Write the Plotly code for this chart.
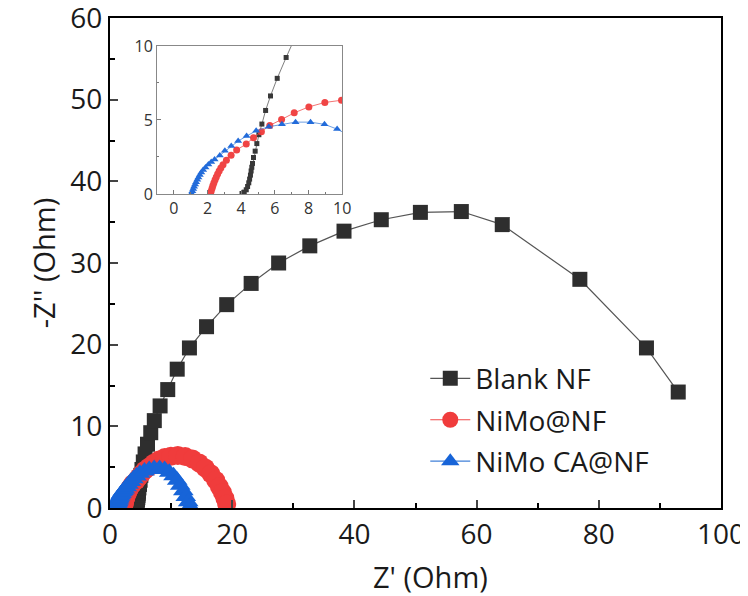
import plotly.graph_objects as go

# ---- data ----
blank_x = [4.05, 4.18, 4.3, 4.38, 4.45, 4.5, 4.55, 4.59, 4.63, 4.67, 4.73, 4.83, 4.93, 5.05, 5.23, 5.45,
           5.74, 6.14, 6.67, 7.25, 8.2, 9.45, 11.0, 13.0, 15.8, 19.1, 23.1, 27.6, 32.7, 38.3, 44.4,
           50.8, 57.5, 64.2, 76.9, 87.8, 93.0]
blank_y = [0.03, 0.12, 0.28, 0.5, 0.75, 1.0, 1.27, 1.55, 1.8, 2.06, 2.46, 2.89, 3.4, 4.0, 4.72, 5.64,
           6.62, 7.81, 9.22, 10.7, 12.5, 14.5, 17.0, 19.6, 22.2, 24.9, 27.5, 30.0, 32.1, 33.9, 35.3,
           36.2, 36.3, 34.7, 28.0, 19.6, 14.2]

nimo_x = [2.18, 2.22, 2.27, 2.32, 2.38, 2.45, 2.52, 2.6, 2.69, 2.79, 2.92, 3.12, 3.4, 3.73, 4.3, 4.73,
          5.2, 5.7, 6.4, 7.15, 8.02, 8.97, 9.96, 11.1, 12.3, 13.5, 14.6, 15.6, 16.5, 17.3, 17.9, 18.4,
          18.8, 19.1]
nimo_y = [0.03, 0.2, 0.38, 0.56, 0.75, 0.95, 1.15, 1.35, 1.55, 1.75, 1.97, 2.28, 2.62, 2.97, 3.37, 3.8,
          4.2, 4.63, 5.03, 5.48, 5.88, 6.18, 6.33, 6.42, 6.3, 6.0, 5.5, 4.9, 4.2, 3.4, 2.6, 1.9,
          1.2, 0.5]

ca_x = [1.05, 1.1, 1.15, 1.2, 1.26, 1.32, 1.39, 1.46, 1.54, 1.63, 1.74, 1.88, 2.05, 2.22, 2.42, 2.73,
        3.03, 3.41, 3.82, 4.32, 4.89, 5.64, 6.42, 7.23, 8.12, 8.95, 9.70, 10.4, 11.0, 11.5, 12.0, 12.4,
        12.8, 13.1]
ca_y = [0.03, 0.18, 0.33, 0.48, 0.63, 0.79, 0.95, 1.11, 1.27, 1.44, 1.61, 1.78, 1.98, 2.15, 2.33, 2.6,
        2.92, 3.24, 3.57, 3.91, 4.27, 4.54, 4.70, 4.85, 4.85, 4.70, 4.38, 3.95, 3.4, 2.8, 2.1, 1.4,
        0.75, 0.2]

series_names = ["Blank NF", "NiMo@NF", "NiMo CA@NF"]
x_ticks = [0, 20, 40, 60, 80, 100]
y_ticks = [0, 10, 20, 30, 40, 50, 60]
inset_x_ticks = [0, 2, 4, 6, 8, 10]
inset_y_ticks = [0, 5, 10]
x_title = "Z' (Ohm)"
y_title = "-Z'' (Ohm)"

FONT = "Open Sans"
FS = 28
series = [
    (blank_x, blank_y, series_names[0], "square", "#2e2e2e", "#555555", 15, 5),
    (nimo_x, nimo_y, series_names[1], "circle", "#f03c3c", "#f04848", 19, 7),
    (ca_x, ca_y, series_names[2], "triangle-up", "#1764d8", "#4080d8", 18, 7),
]

fig = go.Figure()
for xs, ys, name, sym, mc, lc, ms, ims in series:
    fig.add_trace(go.Scatter(
        x=xs, y=ys, name=name, mode="lines+markers",
        line=dict(color=lc, width=1.2),
        marker=dict(symbol=sym, size=ms, color=mc),
        legendgroup=name, xaxis="x", yaxis="y"))
for xs, ys, name, sym, mc, lc, ms, ims in series:
    fig.add_trace(go.Scatter(
        x=xs, y=ys, name=name, mode="lines+markers", showlegend=False,
        line=dict(color=lc, width=0.8), opacity=0.95,
        marker=dict(symbol=sym, size=ims, color=mc),
        xaxis="x2", yaxis="y2"))

fig.update_layout(
    width=740, height=588,
    margin=dict(l=102, r=27, t=10, b=88),
    paper_bgcolor="white", plot_bgcolor="white",
    font=dict(family=FONT, size=FS, color="#1a1a1a"),
    showlegend=True,
    legend=dict(x=0.516, y=0.315, xanchor="left", yanchor="top",
                bgcolor="rgba(0,0,0,0)", font=dict(family=FONT, size=FS, color="#1a1a1a"),
                tracegroupgap=2, itemwidth=40),
    xaxis=dict(range=[0, 100], tickvals=x_ticks, ticks="inside", ticklen=8, tickwidth=1.5,
               showline=True, linecolor="black", linewidth=2, mirror=True, showgrid=False,
               zeroline=False, automargin=False, ticklabeloverflow="allow",
               minor=dict(dtick=10, ticks="inside", ticklen=5, tickwidth=1.5, tickcolor="black"),
               tickfont=dict(size=FS), domain=[0, 1]),
    yaxis=dict(range=[0, 60], tickvals=y_ticks, ticks="inside", ticklen=8, tickwidth=1.5,
               showline=True, linecolor="black", linewidth=2, mirror=True, showgrid=False,
               zeroline=False, automargin=False, ticklabeloverflow="allow",
               minor=dict(dtick=5, ticks="inside", ticklen=5, tickwidth=1.5, tickcolor="black"),
               title=dict(text=y_title, font=dict(size=29), standoff=6),
               tickfont=dict(size=FS), domain=[0, 1]),
    xaxis2=dict(domain=[0.077, 0.380], anchor="y2", range=[-1, 10], tickvals=inset_x_ticks,
                ticks="inside", ticklen=4, tickcolor="#777", showline=True, linecolor="#888",
                linewidth=1, mirror=True, showgrid=False, zeroline=False, automargin=False,
                tickfont=dict(size=16, color="#333"),
                minor=dict(dtick=1, ticks="inside", ticklen=2, tickcolor="#777")),
    yaxis2=dict(domain=[0.641, 0.943], anchor="x2", range=[0, 10], tickvals=inset_y_ticks,
                ticks="inside", ticklen=4, tickcolor="#777", showline=True, linecolor="#888",
                linewidth=1, mirror=True, showgrid=False, zeroline=False, automargin=False,
                tickfont=dict(size=16, color="#333"),
                minor=dict(dtick=2.5, ticks="inside", ticklen=2, tickcolor="#777")),
    annotations=[dict(text=x_title, xref="paper", yref="paper", x=0.525, y=0,
                      xanchor="center", yanchor="middle", yshift=-68, showarrow=False,
                      font=dict(family=FONT, size=29, color="#1a1a1a"))],
)

fig.write_html("out.html")
